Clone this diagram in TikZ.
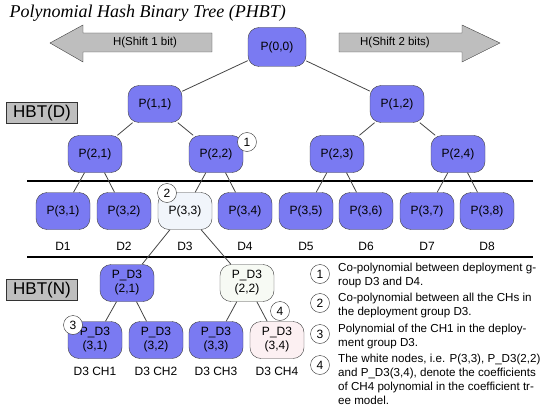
\documentclass[tikz,border=0pt]{standalone}
\usepackage{fontspec}
\setmainfont{Liberation Serif}
\setsansfont{Liberation Sans}
\usetikzlibrary{positioning}
\definecolor{polyblue}{RGB}{122,122,242}
\definecolor{coefblue}{RGB}{241,245,251}
\definecolor{coefgreen}{RGB}{247,250,244}
\definecolor{coefpink}{RGB}{252,240,242}
\definecolor{shiftgray}{RGB}{190,190,190}
\definecolor{edgegray}{RGB}{70,70,70}

\begin{document}
\begin{tikzpicture}[x=1pt, y=-1pt]
        \tikzstyle{poly}=[draw=black!75, fill=polyblue, rounded corners=11pt, minimum width=54pt, minimum height=37pt, inner sep=1pt, align=center, font=\sffamily\fontsize{12}{14}\selectfont]
        \tikzstyle{coef}=[poly, fill=coefblue]
        \tikzstyle{callout}=[circle, draw=black!80, fill=white, minimum size=19pt, inner sep=0pt, font=\sffamily\fontsize{12}{12}\selectfont]
        \tikzstyle{tag}=[font=\sffamily\fontsize{12}{12}\selectfont]
        \tikzstyle{levelbox}=[draw=black!80, fill=shiftgray, minimum width=71pt, minimum height=21pt, inner sep=0pt, font=\sffamily\fontsize{17}{18}\selectfont]
        \tikzstyle{edge}=[edgegray, line width=0.8pt]
        \tikzstyle{divider}=[black, line width=2.6pt]
        \tikzstyle{shiftarrow}=[draw=black!75, fill=shiftgray, line join=miter]
        \tikzstyle{note}=[anchor=north west, inner sep=0pt, align=left, font=\sffamily\fontsize{11.6}{14}\selectfont]

        \useasboundingbox (0,0) rectangle (545,414);

        % Title
        \node[anchor=west, font=\itshape\fontsize{18}{20}\selectfont] (title) at (6,13) {Polynomial Hash Binary Tree (PHBT)};

        % Shift arrows
        \draw[shiftarrow] (50,43) -- (83,25) -- (83,33) -- (212,33) -- (212,52) -- (83,52) -- (83,62) -- cycle;
        \node[tag, font=\sffamily\fontsize{11.5}{12}\selectfont] (shiftl) at (145,43) {H(Shift 1 bit)};
        \draw[shiftarrow] (500,43) -- (462,25) -- (462,33) -- (339,33) -- (339,52) -- (462,52) -- (462,62) -- cycle;
        \node[tag, font=\sffamily\fontsize{11.5}{12}\selectfont] (shiftr) at (395,43) {H(Shift 2 bits)};

        % Level labels
        \node[levelbox] (hbtd) at (42,113) {HBT(D)};
        \node[levelbox] (hbtn) at (42,290) {HBT(N)};

        % Dividing lines
        \draw[divider] (27,181) -- (533,181);
        \draw[divider] (27,257) -- (533,257);

        % HBT(D) tree
        \node[poly, minimum width=58pt, minimum height=39pt] (p00) at (277,47) {P(0,0)};
        \node[poly] (p11) at (155,104) {P(1,1)};
        \node[poly] (p12) at (397,104) {P(1,2)};
        \node[poly] (p21) at (95,154) {P(2,1)};
        \node[poly] (p22) at (216,154) {P(2,2)};
        \node[poly] (p23) at (337,154) {P(2,3)};
        \node[poly] (p24) at (458,154) {P(2,4)};
        \node[poly] (p31) at (63,211) {P(3,1)};
        \node[poly] (p32) at (124,211) {P(3,2)};
        \node[coef] (p33) at (185,211) {P(3,3)};
        \node[poly] (p34) at (245,211) {P(3,4)};
        \node[poly] (p35) at (306,211) {P(3,5)};
        \node[poly] (p36) at (366,211) {P(3,6)};
        \node[poly] (p37) at (427,211) {P(3,7)};
        \node[poly] (p38) at (487,211) {P(3,8)};

        % Deployment groups
        \foreach \i in {1,...,8}
            \node[tag, below=9pt of p3\i] (d\i) {D\i};

        % HBT(N) tree of group D3
        \node[poly] (n21) at (127,283) {P\_D3\\(2,1)};
        \node[coef, fill=coefgreen] (n22) at (247,283) {P\_D3\\(2,2)};
        \node[poly] (n31) at (95,340) {P\_D3\\(3,1)};
        \node[poly] (n32) at (156,340) {P\_D3\\(3,2)};
        \node[poly] (n33) at (216,340) {P\_D3\\(3,3)};
        \node[coef, fill=coefpink] (n34) at (277,340) {P\_D3\\(3,4)};

        % Cluster heads
        \foreach \i in {1,...,4}
            \node[tag, below=5pt of n3\i] (ch\i) {D3 CH\i};

        % Edges
        \foreach \a/\b in {p00/p11, p00/p12, p11/p21, p11/p22, p12/p23, p12/p24,
                           p21/p31, p21/p32, p22/p33, p22/p34, p23/p35, p23/p36,
                           p24/p37, p24/p38, p33/n21, p33/n22, n21/n31, n21/n32,
                           n22/n33, n22/n34}
            \draw[edge] (\a) -- (\b);

        % Callouts on the trees
        \node[callout] (c1) at (247,142) {1};
        \node[callout] (c2) at (167,193) {2};
        \node[callout] (c3) at (73,325) {3};
        \node[callout] (c4) at (280,311) {4};

        % Legend
        \node[callout] (l1) at (320,274) {1};
        \node[callout] (l2) at (320,303) {2};
        \node[callout] (l3) at (320,334) {3};
        \node[callout] (l4) at (320,365) {4};
        \node[note] (t1) at (338,263) {Co-polynomial between deployment g-\\roup D3 and D4.};
        \node[note] (t2) at (338,293) {Co-polynomial between all the CHs in\\the deployment group D3.};
        \node[note] (t3) at (338,324) {Polynomial of the CH1 in the deploy-\\ment group D3.};
        \node[note] (t4) at (338,354) {The white nodes, i.e. P(3,3), P\_D3(2,2)\\and P\_D3(3,4), denote the coefficients\\of CH4 polynomial in the coefficient tr-\\ee model.};
\end{tikzpicture}
\end{document}
